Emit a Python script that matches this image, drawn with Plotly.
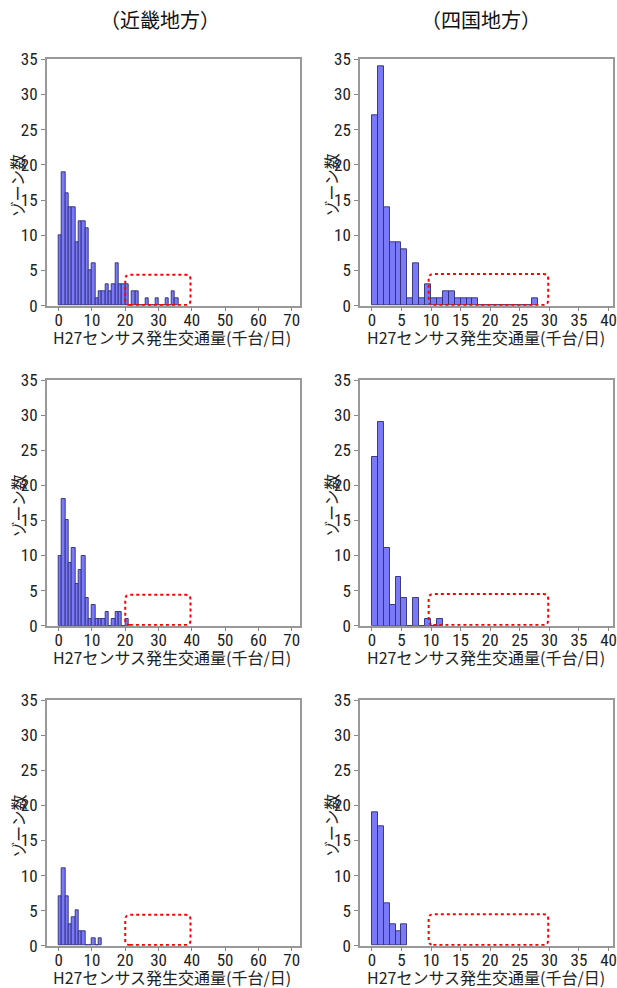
import plotly.graph_objects as go

# ---- data: counts of zones per 1,000 veh/day bin (bin width = 1) ----
kinki_top = [10, 19, 16, 14, 14, 9, 12, 12, 11, 5, 6, 1, 2, 2, 3, 2, 3, 6, 3, 3, 3, 0,
             2, 2, 0, 0, 1, 0, 0, 1, 0, 0, 1, 0, 2, 1]
kinki_mid = [10, 18, 15, 9, 11, 6, 8, 10, 4, 1, 3, 1, 1, 1, 2, 0, 1, 2, 2, 0, 1]
kinki_bot = [7, 11, 7, 3, 4, 5, 2, 2, 0, 0, 1, 0, 1]
shikoku_top = [27, 34, 14, 9, 9, 8, 1, 6, 1, 3, 1, 1, 2, 2, 1, 1, 1, 1, 0, 0, 0, 0, 0, 0,
               0, 0, 0, 1]
shikoku_mid = [24, 29, 11, 3, 7, 4, 0, 4, 0, 1, 0, 1]
shikoku_bot = [19, 17, 6, 3, 2, 3]

col_titles = ["（近畿地方）", "（四国地方）"]
x_title = "H27センサス発生交通量(千台/日)"
y_title = "ゾーン数"
kinki_ticks = [0, 10, 20, 30, 40, 50, 60, 70]
shikoku_ticks = [0, 5, 10, 15, 20, 25, 30, 35, 40]
y_ticks = [0, 5, 10, 15, 20, 25, 30, 35]

# highlight boxes (x0, x1, y0, y1) in data units
kinki_box = (20, 39.6, 0.1, 4.4)
shikoku_box = (9.6, 29.8, 0.1, 4.5)

W, H = 617, 988
left_px = (46.7, 300.0)
right_px = (360.0, 613.3)
rows_px = [(59.3, 305.7), (380.0, 625.7), (700.3, 945.7)]


def px_x(p):
    return p / W


def px_y(p):
    return 1 - p / H


left_dom = [px_x(left_px[0]), px_x(left_px[1])]
right_dom = [px_x(right_px[0]), px_x(right_px[1])]
row_doms = [[px_y(b), px_y(t)] for (t, b) in rows_px]

panels = [
    (kinki_top, 0, 0), (shikoku_top, 0, 1),
    (kinki_mid, 1, 0), (shikoku_mid, 1, 1),
    (kinki_bot, 2, 0), (shikoku_bot, 2, 1),
]

tick_font = dict(family="Roboto Condensed, DejaVu Sans Condensed, Liberation Sans Narrow, "
                        "Liberation Sans, sans-serif",
                 size=17, color="#222")
jp_font = dict(family="Noto Sans CJK JP, sans-serif", size=16, color="#222")

fig = go.Figure()
layout = dict(width=W, height=H, margin=dict(l=0, r=0, t=0, b=0, autoexpand=False),
              plot_bgcolor="white", paper_bgcolor="white", showlegend=False)
shapes = []
annotations = []


def rounded_path(x0, x1, y0, y1, rx, ry):
    return (f"M {x0+rx},{y0} L {x1-rx},{y0} Q {x1},{y0} {x1},{y0+ry} "
            f"L {x1},{y1-ry} Q {x1},{y1} {x1-rx},{y1} L {x0+rx},{y1} "
            f"Q {x0},{y1} {x0},{y1-ry} L {x0},{y0+ry} Q {x0},{y0} {x0+rx},{y0} Z")


for i, (counts, r, c) in enumerate(panels):
    idx = i + 1
    xa = "x" if idx == 1 else f"x{idx}"
    ya = "y" if idx == 1 else f"y{idx}"
    centers = [k + 0.5 for k in range(len(counts))]
    fig.add_trace(go.Bar(
        x=centers, y=counts, width=1, xaxis=xa, yaxis=ya,
        marker=dict(color="rgb(122,122,248)",
                    line=dict(color="rgba(45,45,120,0.9)", width=1)),
        hoverinfo="skip"))
    if c == 0:
        xrange = [-3.6, 72.5]
        ticks = kinki_ticks
        box = kinki_box
        rx = 1.4
        cols = left_px
    else:
        xrange = [-2.0, 40.8]
        ticks = shikoku_ticks
        box = shikoku_box
        rx = 0.8
        cols = right_px
    xkey = "xaxis" if idx == 1 else f"xaxis{idx}"
    ykey = "yaxis" if idx == 1 else f"yaxis{idx}"
    layout[xkey] = dict(domain=left_dom if c == 0 else right_dom, anchor=ya,
                        range=xrange, tickvals=ticks, ticks="outside", ticklen=4,
                        tickcolor="#888", showline=True, linecolor="#999",
                        linewidth=1.5, mirror=True, showgrid=False, zeroline=False,
                        tickfont=tick_font, automargin=False, ticklabeloverflow="allow",
                        ticklabelstandoff=-6)
    layout[ykey] = dict(domain=row_doms[r], anchor=xa, range=[0, 35],
                        tickvals=y_ticks, ticks="outside", ticklen=4, tickcolor="#888",
                        showline=True, linecolor="#999", linewidth=1.5, mirror=True,
                        showgrid=False, zeroline=False, tickfont=tick_font,
                        automargin=False, ticklabeloverflow="allow")
    top, bot = rows_px[r]
    # x-axis title
    annotations.append(dict(text=x_title, x=px_x((cols[0] + cols[1]) / 2 - 1),
                            y=px_y(bot + 31.5), xref="paper", yref="paper",
                            showarrow=False, xanchor="center", yanchor="middle",
                            font=jp_font))
    # y-axis title
    annotations.append(dict(text=y_title, x=px_x(cols[0] - 29), y=px_y((top + bot) / 2 + 3),
                            xref="paper", yref="paper", textangle=-90,
                            showarrow=False, xanchor="center", yanchor="middle",
                            font=jp_font))
    x0, x1, y0, y1 = box
    shapes.append(dict(type="path", xref=xa, yref=ya,
                       path=rounded_path(x0, x1, y0, y1, rx, 0.7),
                       line=dict(color="red", width=2, dash="dot")))

title_x_px = [160, 481]
for c, t in enumerate(col_titles):
    annotations.append(dict(text=t, x=px_x(title_x_px[c]), y=px_y(20),
                            xref="paper", yref="paper",
                            showarrow=False, xanchor="center", yanchor="middle",
                            font=dict(family="Noto Sans CJK JP, sans-serif", size=20,
                                      color="#111")))

layout["shapes"] = shapes
layout["annotations"] = annotations
layout["bargap"] = 0
fig.update_layout(**layout)
fig.write_html("out.html")
